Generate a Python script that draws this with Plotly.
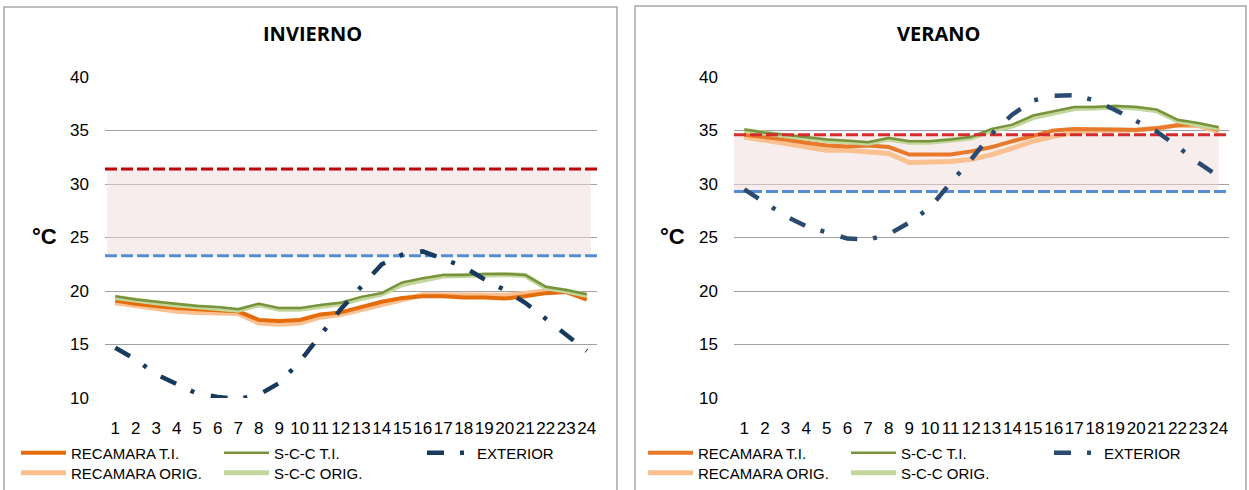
import plotly.graph_objects as go

W, H = 1249, 490

hours = list(range(1, 25))
hour_labels = [str(h) for h in hours]

# INVIERNO
inv_recamara_ti = [19.1, 18.8, 18.6, 18.4, 18.3, 18.2, 18.1, 17.3, 17.2, 17.3, 17.8, 18.0,
                   18.5, 19.0, 19.35, 19.5, 19.5, 19.4, 19.4, 19.3, 19.5, 19.8, 19.9, 19.2]
inv_recamara_orig = [18.9, 18.6, 18.3, 18.1, 18.0, 17.9, 17.9, 17.0, 16.9, 17.0, 17.55, 17.8,
                     18.25, 18.8, 19.25, 19.65, 19.65, 19.65, 19.65, 19.6, 19.8, 20.0, 20.0, 19.45]
inv_scc_ti = [19.5, 19.2, 19.0, 18.8, 18.6, 18.5, 18.3, 18.8, 18.4, 18.4, 18.7, 18.9,
              19.45, 19.8, 20.8, 21.2, 21.5, 21.5, 21.6, 21.6, 21.5, 20.4, 20.1, 19.7]
inv_scc_orig = [19.4, 19.1, 18.9, 18.7, 18.5, 18.4, 18.2, 18.7, 18.3, 18.3, 18.6, 18.8,
                19.3, 19.7, 20.6, 21.0, 21.4, 21.45, 21.55, 21.55, 21.45, 20.3, 20.0, 19.6]
inv_exterior = [14.7, 13.6, 12.2, 11.25, 10.4, 10.1, 9.9, 10.3, 11.4, 13.4, 15.8, 18.3,
                20.4, 22.5, 23.4, 23.7, 23.0, 22.25, 21.1, 20.1, 18.9, 17.4, 15.8, 14.4]
inv_limite_sup = 31.4
inv_limite_inf = 23.3

# VERANO
ver_recamara_ti = [34.6, 34.4, 34.15, 33.85, 33.6, 33.5, 33.6, 33.45, 32.75, 32.75, 32.75, 33.05,
                   33.45, 34.0, 34.5, 35.0, 35.15, 35.15, 35.1, 35.05, 35.2, 35.5, 35.6, 35.05]
ver_recamara_orig = [34.4, 34.1, 33.7, 33.45, 33.15, 33.15, 33.05, 32.85, 32.0, 32.0, 32.1, 32.3,
                     32.75, 33.35, 34.0, 34.45, 34.8, 35.0, 35.0, 35.05, 35.2, 35.5, 35.45, 34.9]
ver_scc_ti = [35.1, 34.8, 34.6, 34.4, 34.15, 34.05, 33.9, 34.3, 34.0, 34.0, 34.15, 34.4,
              35.15, 35.55, 36.4, 36.8, 37.2, 37.2, 37.3, 37.2, 36.95, 36.0, 35.7, 35.3]
ver_scc_orig = [35.0, 34.7, 34.5, 34.3, 34.05, 33.95, 33.8, 34.2, 33.9, 33.9, 34.05, 34.3,
                35.0, 35.4, 36.2, 36.6, 37.05, 37.1, 37.2, 37.1, 36.85, 35.9, 35.6, 35.2]
ver_exterior = [29.5, 28.2, 27.0, 26.05, 25.5, 24.9, 24.8, 25.3, 26.4, 27.8, 30.1, 32.3,
                34.7, 36.5, 37.8, 38.25, 38.3, 37.8, 36.9, 35.9, 34.9, 33.5, 32.0, 30.7]
ver_limite_sup = 34.6
ver_limite_inf = 29.3

y_ticks = [10, 15, 20, 25, 30, 35, 40]

FONT = "Liberation Sans, Arial, sans-serif"
fig = go.Figure()


def px_x(p):
    return p / W


def px_y(p):
    return 1 - p / H


panels = [
    dict(xa="x", ya="y", title="INVIERNO", rec_ti=inv_recamara_ti, rec_or=inv_recamara_orig,
         scc_ti=inv_scc_ti, scc_or=inv_scc_orig, ext=inv_exterior, sup=inv_limite_sup,
         inf=inv_limite_inf, band=(0.6, 24.2), leg=("legend", "legend2"),
         c_rec="#E46C0A", c_red="#C00000", c_ext="#173A5E"),
    dict(xa="x2", ya="y2", title="VERANO", rec_ti=ver_recamara_ti, rec_or=ver_recamara_orig,
         scc_ti=ver_scc_ti, scc_or=ver_scc_orig, ext=ver_exterior, sup=ver_limite_sup,
         inf=ver_limite_inf, band=(0.3, 24.0), leg=("legend3", "legend4"),
         c_rec="#E8792A", c_red="#D52B2B", c_ext="#2B4A6F"),
]

for p in panels:
    xa, ya = p["xa"], p["ya"]
    l1, l2 = p["leg"]
    b0, b1 = p["band"]
    # comfort band
    fig.add_trace(go.Scatter(x=[b0, b1], y=[p["inf"], p["inf"]], mode="lines",
                             line=dict(width=0), showlegend=False, hoverinfo="skip",
                             xaxis=xa, yaxis=ya))
    fig.add_trace(go.Scatter(x=[b0, b1], y=[p["sup"], p["sup"]], mode="lines",
                             line=dict(width=0), fill="tonexty",
                             fillcolor="rgba(242,220,219,0.5)", showlegend=False,
                             hoverinfo="skip", xaxis=xa, yaxis=ya))
    fig.add_trace(go.Scatter(x=hours, y=p["rec_or"], mode="lines", name="RECAMARA ORIG.",
                             line=dict(color="#FAC090", width=5), legend=l2,
                             xaxis=xa, yaxis=ya))
    fig.add_trace(go.Scatter(x=hours, y=p["rec_ti"], mode="lines", name="RECAMARA T.I.",
                             line=dict(color=p["c_rec"], width=4), legend=l1,
                             xaxis=xa, yaxis=ya))
    fig.add_trace(go.Scatter(x=hours, y=p["scc_or"], mode="lines", name="S-C-C ORIG.",
                             line=dict(color="#C3D69B", width=5), legend=l2,
                             xaxis=xa, yaxis=ya))
    fig.add_trace(go.Scatter(x=hours, y=p["scc_ti"], mode="lines", name="S-C-C T.I.",
                             line=dict(color="#77933C", width=2.5), legend=l1,
                             xaxis=xa, yaxis=ya))
    fig.add_trace(go.Scatter(x=[0.5, 24.5], y=[p["sup"], p["sup"]], mode="lines",
                             line=dict(color=p["c_red"], width=3, dash="12px,4px"),
                             showlegend=False, hoverinfo="skip", xaxis=xa, yaxis=ya))
    fig.add_trace(go.Scatter(x=[0.5, 24.5], y=[p["inf"], p["inf"]], mode="lines",
                             line=dict(color="#558ED5", width=3, dash="12px,4px"),
                             showlegend=False, hoverinfo="skip", xaxis=xa, yaxis=ya))
    fig.add_trace(go.Scatter(x=hours, y=p["ext"], mode="lines", name="EXTERIOR",
                             line=dict(color=p["c_ext"], width=4.5, dash="17px,16px,4px,17px"),
                             legend=l1, xaxis=xa, yaxis=ya))

ydom = [px_y(398), px_y(77)]
axis_common_x = dict(range=[0.5, 24.5], tickmode="array", tickvals=hours, ticktext=hour_labels,
                     showgrid=False, zeroline=False, showline=False, ticks="", tickangle=0,
                     tickfont=dict(family=FONT, size=17, color="#000"),
                     ticklabelstandoff=18, fixedrange=True, automargin=False)
axis_common_y = dict(range=[10, 40], tickmode="array", tickvals=y_ticks,
                     showgrid=True, gridcolor="#A0A0A0", gridwidth=1, zeroline=False,
                     showline=False, ticks="", domain=ydom,
                     tickfont=dict(family=FONT, size=17, color="#000"),
                     ticklabelstandoff=15, fixedrange=True, automargin=False)

legend_common = dict(orientation="h", bgcolor="rgba(0,0,0,0)", borderwidth=0,
                     font=dict(family=FONT, size=15, color="#000"),
                     entrywidth=143, entrywidthmode="pixels", itemwidth=45,
                     xanchor="left", yanchor="middle", traceorder="normal")

fig.update_layout(
    width=W, height=H, margin=dict(l=0, r=0, t=0, b=0, autoexpand=False),
    paper_bgcolor="white", plot_bgcolor="white",
    xaxis=dict(domain=[px_x(105), px_x(597)], anchor="y", **axis_common_x),
    yaxis=dict(anchor="x", **axis_common_y),
    xaxis2=dict(domain=[px_x(734), px_x(1229)], anchor="y2", **axis_common_x),
    yaxis2=dict(anchor="x2", **axis_common_y),
    legend=dict(x=px_x(16), y=px_y(453), **legend_common),
    legend2=dict(x=px_x(16), y=px_y(473), **legend_common),
    legend3=dict(x=px_x(643), y=px_y(453), **legend_common),
    legend4=dict(x=px_x(643), y=px_y(473), **legend_common),
    shapes=[
        dict(type="rect", xref="paper", yref="paper", x0=px_x(4), x1=px_x(617),
             y0=px_y(500), y1=px_y(7), line=dict(color="#A6A6A6", width=1.5), layer="below"),
        dict(type="rect", xref="paper", yref="paper", x0=px_x(635), x1=px_x(1246),
             y0=px_y(500), y1=px_y(6), line=dict(color="#A6A6A6", width=1.5), layer="below"),
    ],
    annotations=[
        dict(text="<b>INVIERNO</b>", x=px_x(312), y=px_y(34), xref="paper", yref="paper",
             showarrow=False, font=dict(family="Open Sans, " + FONT, size=20, color="#000"),
             xanchor="center", yanchor="middle"),
        dict(text="<b>VERANO</b>", x=px_x(938), y=px_y(34), xref="paper", yref="paper",
             showarrow=False, font=dict(family="Open Sans, " + FONT, size=20, color="#000"),
             xanchor="center", yanchor="middle"),
        dict(text="<b>°C</b>", x=px_x(44), y=px_y(236), xref="paper", yref="paper",
             showarrow=False, font=dict(family=FONT, size=22, color="#000"),
             xanchor="center", yanchor="middle"),
        dict(text="<b>°C</b>", x=px_x(672), y=px_y(236), xref="paper", yref="paper",
             showarrow=False, font=dict(family=FONT, size=22, color="#000"),
             xanchor="center", yanchor="middle"),
    ],
)

fig.write_html("out.html", config={"displayModeBar": False},
               post_script="document.body.style.margin='0';")
